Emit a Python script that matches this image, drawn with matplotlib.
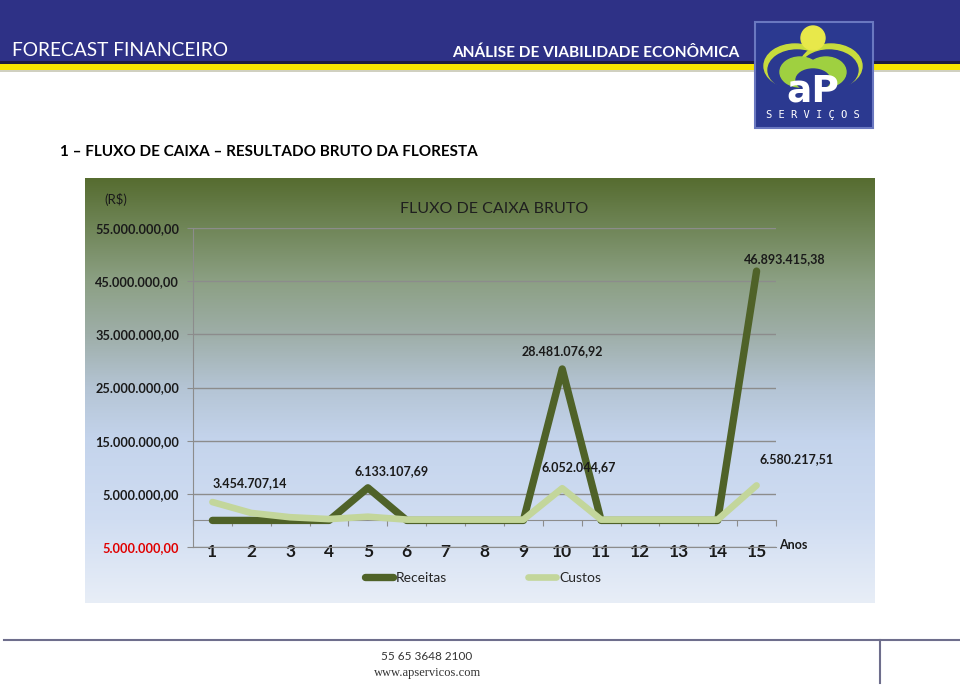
import numpy as np
import matplotlib
matplotlib.use("Agg")
import matplotlib.pyplot as plt
from matplotlib.patches import Rectangle, Circle, Ellipse

# dados do grafico (R$)
anos = list(range(1, 16))
receitas = [0, 0, 0, 0, 6133107.69, 0, 0, 0, 0, 28481076.92, 0, 0, 0, 0, 46893415.38]
custos = [3454707.14, 1400000, 600000, 250000, 700000, 150000, 150000, 150000, 150000,
          6052044.67, 150000, 150000, 150000, 150000, 6580217.51]
yticks = [55e6, 45e6, 35e6, 25e6, 15e6, 5e6, -5e6]
idx_rotulo_receitas = [4, 9, 14]
idx_rotulo_custos = [0, 9, 14]

W, H = 960, 686
FONTE = ['Lato', 'DejaVu Sans']
plt.rcParams['font.family'] = FONTE


def br(v):
    """formata no padrao brasileiro, negativo sem sinal (fica em vermelho)"""
    s = f"{abs(v):,.2f}"
    return s.replace(",", "X").replace(".", ",").replace("X", ".")


def caixa(x0, y0, x1, y1):
    return [x0 / W, 1 - y1 / H, (x1 - x0) / W, (y1 - y0) / H]


fig = plt.figure(figsize=(9.6, 6.86), dpi=100)
bg = fig.add_axes([0, 0, 1, 1])
bg.set_xlim(0, W)
bg.set_ylim(H, 0)
bg.axis('off')

# cabecalho
bg.add_patch(Rectangle((0, 0), W, 61, color='#2e3186', lw=0))
bg.add_patch(Rectangle((0, 61), W, 2.5, color='#1c1c40', lw=0))
bg.add_patch(Rectangle((0, 63.5), W, 6.5, color='#f7e600', lw=0))
bg.add_patch(Rectangle((0, 70), W, 2, color='#d0d0c0', lw=0))
bg.text(12, 56, 'FORECAST FINANCEIRO', color='white', fontsize=13.8,
        ha='left', va='baseline', fontstretch='condensed')
bg.text(452, 57, 'ANÁLISE DE VIABILIDADE ECONÔMICA', color='white', fontsize=11.1,
        fontweight='bold', ha='left', va='baseline')

# logo
bg.add_patch(Rectangle((755, 22), 118, 106, facecolor='#2b3990', edgecolor='#6a78c0', lw=1.5, zorder=3))
bg.add_patch(Ellipse((795, 66), 62, 44, color='#c8dc3c', zorder=4))
bg.add_patch(Ellipse((797, 70), 58, 40, color='#2b3990', zorder=4))
bg.add_patch(Ellipse((831, 66), 62, 44, color='#c8dc3c', zorder=4))
bg.add_patch(Ellipse((829, 70), 58, 40, color='#2b3990', zorder=4))
bg.add_patch(Ellipse((800, 72), 40, 30, color='#9fd040', zorder=4))
bg.add_patch(Ellipse((826, 72), 40, 30, color='#9fd040', zorder=4))
bg.add_patch(Ellipse((813, 80), 34, 22, color='#2b3990', zorder=4))
bg.add_patch(Circle((813, 38), 12, color='#e8e84a', zorder=5))
bg.text(813, 92, 'aP', color='white', fontsize=27, fontweight='heavy', ha='center',
        va='center', family='DejaVu Sans', zorder=6)
bg.text(813, 115, 'S E R V I Ç O S', color='white', fontsize=7.5, ha='center',
        va='center', family='DejaVu Sans Mono', zorder=6)

bg.text(60, 152, '1 – FLUXO DE CAIXA – RESULTADO BRUTO DA FLORESTA', fontsize=11,
        fontweight='bold', color='black', ha='left', va='center')

# fundo degrade da area do grafico
pos = [0, 50, 103, 156, 209, 262, 342, 425]
cores = np.array([[86, 108, 48], [112, 134, 88], [140, 160, 132], [158, 174, 168],
                  [180, 196, 212], [196, 212, 236], [208, 221, 242], [232, 238, 247]]) / 255
yy = np.arange(0, 426)
grad = np.stack([np.interp(yy, pos, cores[:, k]) for k in range(3)], axis=1)[:, None, :]
bg.imshow(grad, extent=[85, 875, 603, 178], aspect='auto', zorder=1)

# rodape
bg.plot([4, W], [640, 640], color='#6e6e8c', lw=1.5)
bg.plot([880, 880], [640, 683], color='#6e6e8c', lw=1.5)
bg.text(427, 656, '55 65 3648 2100', fontsize=8.5, color='#333333', ha='center',
        va='center', fontstretch='condensed')
bg.text(428, 673, 'www.apservicos.com', fontsize=9, color='#333333', ha='center',
        va='center', family='Liberation Serif')

# grafico
ax = fig.add_axes(caixa(193, 228, 776, 547))
ax.set_facecolor('none')
ax.set_zorder(2)

ax.plot(anos, receitas, color='#4f6228', lw=5.3, solid_capstyle='round',
        solid_joinstyle='round', zorder=3, label='Receitas')
ax.plot(anos, custos, color='#c3d69b', lw=4.8, solid_capstyle='round',
        solid_joinstyle='round', zorder=4, label='Custos')

ax.set_xlim(0.5, 15.5)
ax.set_ylim(-5e6, 55e6)
ax.set_yticks(yticks, [br(v) for v in yticks])
for lab, v in zip(ax.get_yticklabels(), yticks):
    lab.set_color('#e00000' if v < 0 else '#1a1a1a')
    lab.set_fontweight('bold')
ax.set_xticks(anos, [str(a) for a in anos])
for lab in ax.get_xticklabels():
    lab.set_fontweight('bold')
ax.grid(axis='y', color='#8c8c8c', lw=1)
ax.set_axisbelow(True)
for s in ['top', 'right']:
    ax.spines[s].set_visible(False)
for s in ['left', 'bottom']:
    ax.spines[s].set_color('#8c8c8c')
ax.tick_params(axis='y', length=4, color='#8c8c8c', labelsize=9.2, pad=6)
ax.tick_params(axis='x', length=0, labelsize=12.5, pad=-2.5, colors='#1a1a1a')

# eixo das categorias cruzando no zero
frac = (0 - ax.get_ylim()[0]) / (ax.get_ylim()[1] - ax.get_ylim()[0])
sec = ax.secondary_xaxis(frac)
sec.set_xticks(np.arange(0.5, 16, 1))
sec.tick_params(length=4, direction='out', color='#8c8c8c', labelbottom=False)
sec.spines['bottom'].set_color('#8c8c8c')

# rotulos de dados
desl_rec = [(17, 12), (0, 13), (20, 9)]
desl_cus = [(27, 14), (12, 15), (29, 19)]
for i, d in zip(idx_rotulo_receitas, desl_rec):
    ax.annotate(br(receitas[i]), (anos[i], receitas[i]), xytext=d, textcoords='offset points',
                ha='center', va='center', fontsize=9, fontweight='bold', color='#1a1a1a')
for i, d in zip(idx_rotulo_custos, desl_cus):
    ax.annotate(br(custos[i]), (anos[i], custos[i]), xytext=d, textcoords='offset points',
                ha='center', va='center', fontsize=9, fontweight='bold', color='#1a1a1a')

bg.text(116, 200, '(R$)', fontsize=9.5, color='#1a1a1a', ha='center', va='center')
bg.text(494, 209, 'FLUXO DE CAIXA BRUTO', fontsize=11.5, color='#1f1f1f', ha='center',
        va='center')
bg.text(779, 545, 'Anos', fontsize=9, fontweight='bold', color='#1a1a1a', ha='left',
        va='center')

fig.legend(loc='center', bbox_to_anchor=(483 / W, 1 - 578 / H), ncol=2, frameon=False,
           fontsize=10, handlelength=2.0, handletextpad=0.25, columnspacing=5.8,
           labelcolor='#262626')

fig.savefig('out.png', dpi=100)
